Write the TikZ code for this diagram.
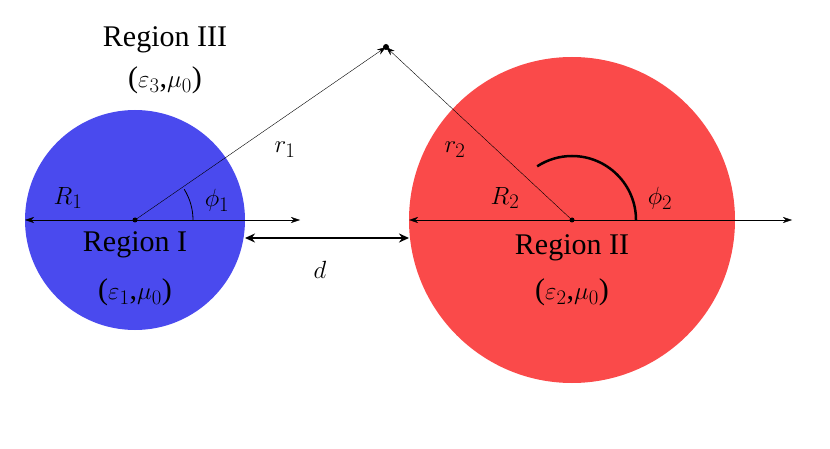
\documentclass[tikz,border=0pt]{standalone}
\usepackage{fontspec}
\setmainfont{Liberation Serif}
\usetikzlibrary{arrows.meta}
\definecolor{blueball}{RGB}{74,74,238}
\definecolor{redball}{RGB}{250,74,74}
\begin{document}
\begin{tikzpicture}[x=1pt,y=-1pt,
    arr/.style={-{Stealth[length=9pt,width=6pt]}},
    lbl/.style={font=\fontsize{30}{32}\selectfont},
    sym/.style={font=\fontsize{30}{32}\selectfont\itshape}]
        \useasboundingbox (0,0) rectangle (830,449);
        \draw (135,220) node (C1) {};
        \draw (572,220) node (C2) {};
        \draw (386,47) node (P) {};
        \coordinate (E1) at (300,220);
        \coordinate (E2) at (792,220);
        \coordinate (L1) at (25,220);
        \coordinate (L2) at (409,220);
        \coordinate (dL) at (245,238);
        \coordinate (dR) at (409,238);

        % dessin des spheres
        \fill[blueball] (C1) circle (110);
        \fill[redball] (C2) circle (163);

        % axes et rayons
        \draw[arr] (C1.center) -- (E1);
        \draw[arr] (C2.center) -- (E2);
        \draw[arr] (C1.center) -- (L1);
        \draw[arr] (C2.center) -- (L2);
        \draw[arr] (C1.center) -- (P.center);
        \draw[arr] (C2.center) -- (P.center);
        \draw[line width=2.5pt,{Stealth[length=10pt,width=9pt]}-{Stealth[length=10pt,width=9pt]}] (dL) -- (dR);

        % angles
        \draw[thick] ([shift={(0:58)}]C1.center) arc[start angle=0,end angle=-32,radius=58];
        \draw[line width=2.5pt] ([shift={(0:64)}]C2.center) arc[start angle=0,end angle=-123,radius=64];

        \fill (C1.center) circle (2.5);
        \fill (C2.center) circle (2.5);
        \fill (P.center) circle (3);

        % textes
        \node[lbl] (t3) at (165,40) {Region III};
        \node[lbl] (e3) at (165,80) {($\varepsilon_3$,$\mu_0$)};
        \node[lbl] (t1) at (135,245) {Region I};
        \node[lbl] (e1) at (135,292) {($\varepsilon_1$,$\mu_0$)};
        \node[lbl] (t2) at (572,248) {Region II};
        \node[lbl] (e2) at (572,292) {($\varepsilon_2$,$\mu_0$)};
        \node[lbl] (r1) at (285,150) {$r_1$};
        \node[lbl] (r2) at (455,150) {$r_2$};
        \node[lbl] (R1) at (68,198) {$R_1$};
        \node[lbl] (R2) at (505,198) {$R_2$};
        \node[lbl] (p1) at (217,200) {$\phi_1$};
        \node[lbl] (p2) at (660,198) {$\phi_2$};
        \node[lbl] (d) at (320,270) {$d$};
    \end{tikzpicture}
\end{document}
